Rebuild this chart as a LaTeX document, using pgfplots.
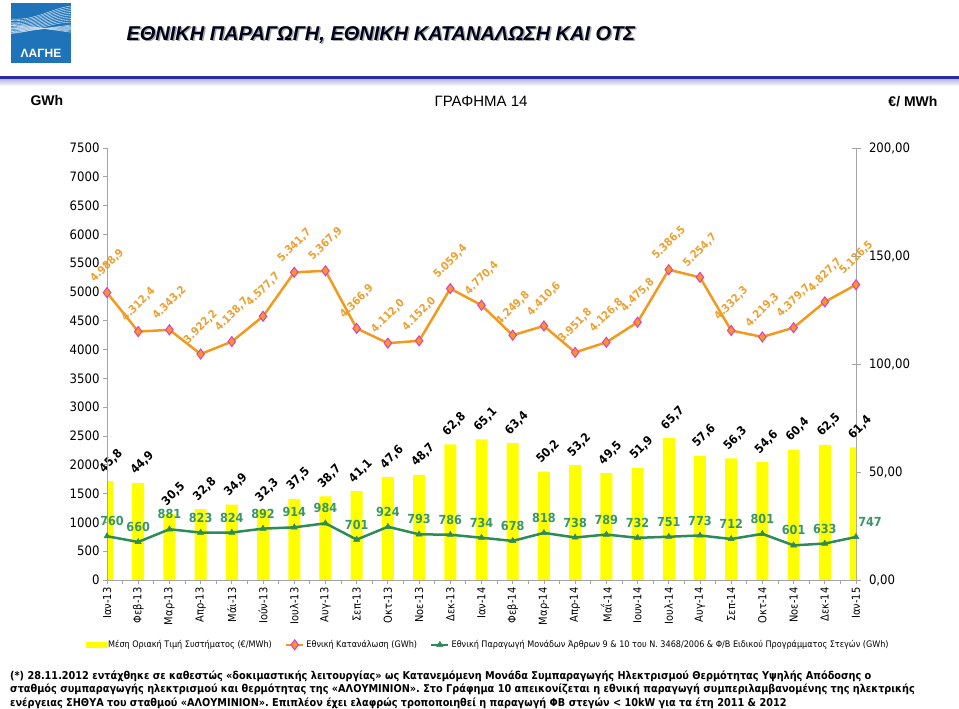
\documentclass[border=0pt]{standalone}
\usepackage{fontspec}
\usepackage{pgfplots}
\usepackage{pgfplotstable}
\pgfplotsset{compat=1.18}
\setmainfont{Liberation Sans}
\newfontfamily\cond{DejaVu Sans Condensed}

\definecolor{barY}{RGB}{255,255,0}
\definecolor{consO}{RGB}{242,154,30}
\definecolor{consLbl}{RGB}{236,160,50}
\definecolor{mkEdge}{RGB}{225,60,200}
\definecolor{prodG}{RGB}{46,139,87}
\definecolor{prodLbl}{RGB}{55,150,100}
\definecolor{logoB}{RGB}{30,115,185}
\definecolor{ruleB}{RGB}{45,45,160}
\definecolor{axGray}{RGB}{165,165,165}

\pgfplotstableread{
x smp cons prod dx
0 45.8 4988.9 760 5
1 44.9 4312.4 660 0
2 30.5 4343.2 881 0
3 32.8 3922.2 823 0
4 34.9 4138.7 824 0
5 32.3 4577.7 892 0
6 37.5 5341.7 914 0
7 38.7 5367.9 984 0
8 41.1 4366.9 701 0
9 47.6 4112.0 924 0
10 48.7 4152.0 793 0
11 62.8 5059.4 786 0
12 65.1 4770.4 734 0
13 63.4 4249.8 678 0
14 50.2 4410.6 818 0
15 53.2 3951.8 738 0
16 49.5 4126.8 789 0
17 51.9 4475.8 732 0
18 65.7 5386.5 751 0
19 57.6 5254.7 773 0
20 56.3 4332.3 712 0
21 54.6 4219.3 801 0
22 60.4 4379.7 601 0
23 62.5 4827.7 633 0
24 61.4 5126.5 747 14
}\data

\begin{document}
\begin{tikzpicture}
\useasboundingbox (0,0) rectangle (959pt,709pt);
% logo
\begin{scope}
\fill[logoB] (11pt,646pt) rectangle (71pt,706pt);
\clip (11pt,666pt) rectangle (71pt,706pt);
\foreach \i in {0,...,9} {
  \draw[white, line width=0.35pt] (11pt,{690pt-\i*1.6pt}) .. controls (35pt,{688pt-\i*1.2pt}) and (50pt,{700pt-\i*1.5pt}) .. (71pt,{703pt-\i*1.8pt});
}
\foreach \i in {0,...,6} {
  \draw[white!80!logoB, line width=0.5pt] (11pt,{676pt+\i*1.5pt}) -- (71pt,{684pt-\i*1.2pt});
}
\end{scope}
\node[text=white, font=\bfseries\fontsize{12}{14}\selectfont, anchor=center] at (41pt,656pt) {ΛΑΓΗΕ};
% title
\node[anchor=west, text=gray!70, font=\bfseries\itshape\fontsize{20}{24}\selectfont] at (124.5pt,672.5pt) {ΕΘΝΙΚΗ ΠΑΡΑΓΩΓΗ, ΕΘΝΙΚΗ ΚΑΤΑΝΑΛΩΣΗ ΚΑΙ ΟΤΣ};
\node[anchor=west, text=black!90!blue, font=\bfseries\itshape\fontsize{20}{24}\selectfont] at (123pt,674pt) {ΕΘΝΙΚΗ ΠΑΡΑΓΩΓΗ, ΕΘΝΙΚΗ ΚΑΤΑΝΑΛΩΣΗ ΚΑΙ ΟΤΣ};
% rule
\shade[top color=ruleB!35, bottom color=white] (0pt,623pt) rectangle (959pt,630pt);
\fill[ruleB] (0pt,630pt) rectangle (959pt,633pt);
% header labels
\node[anchor=west, font=\bfseries\fontsize{14}{16}\selectfont] at (27pt,608pt) {GWh};
\node[anchor=center, font=\fontsize{15}{18}\selectfont] at (481pt,608pt) {ΓΡΑΦΗΜΑ 14};
\node[anchor=east, font=\bfseries\fontsize{14}{16}\selectfont] at (941pt,607pt) {€/ MWh};

% bars, right axis
\begin{axis}[
  at={(107pt,129pt)}, anchor=south west, scale only axis,
  width=749pt, height=432pt,
  xmin=0, xmax=24, ymin=0, ymax=200,
  axis y line*=right, axis x line=none,
  axis line style={draw=axGray, line width=0.8pt, -},
  ytick={0,50,100,150,200},
  tick align=center, major tick length=9pt,
  tick style={draw=axGray, line width=0.8pt},
  yticklabel style={font=\cond\fontsize{13}{15}\selectfont, xshift=5pt,
    /pgf/number format/.cd, fixed, fixed zerofill, precision=2, use comma, assume math mode=true},
  clip mode=individual,
]
\addplot[ybar, bar width=12pt, bar shift=0pt, fill=barY, draw=none,
  nodes near coords={\pgfmathprintnumber[fixed,fixed zerofill,precision=1,use comma,assume math mode=true]{\pgfplotspointmeta}},
  nodes near coords align={center},
  every node near coord/.append style={font=\cond\bfseries\fontsize{12}{14}\selectfont, text=black, xshift=4pt, yshift=20pt, rotate=45}
] table[x=x, y=smp] {\data};
\end{axis}

% lines, left axis
\begin{axis}[
  at={(107pt,129pt)}, anchor=south west, scale only axis,
  width=749pt, height=432pt,
  xmin=0, xmax=24, ymin=0, ymax=7500,
  axis y line*=left, axis x line*=bottom,
  axis line style={draw=axGray, line width=0.8pt, -},
  xtick={0,...,24},
  xticklabels={Ιαν-13,Φεβ-13,Μαρ-13,Απρ-13,Μάι-13,Ιούν-13,Ιουλ-13,Αυγ-13,Σεπ-13,Οκτ-13,Νοε-13,Δεκ-13,Ιαν-14,Φεβ-14,Μαρ-14,Απρ-14,Μαΐ-14,Ιουν-14,Ιουλ-14,Αυγ-14,Σεπ-14,Οκτ-14,Νοε-14,Δεκ-14,Ιαν-15},
  x tick label style={rotate=90, anchor=east, font=\cond\fontsize{11}{13}\selectfont},
  minor x tick num=1,
  ytick={0,500,...,7500},
  yticklabel style={font=\cond\fontsize{13}{15}\selectfont,
    /pgf/number format/.cd, 1000 sep={}, assume math mode=true},
  tick align=outside, major tick length=4pt, minor tick length=4pt,
  tick style={draw=axGray, line width=0.8pt},
  clip mode=individual,
  legend columns=3,
  legend cell align=left,
  legend style={at={(0.509,-0.150)}, anchor=center, draw=none, fill=none,
    font=\cond\fontsize{9}{11}\selectfont,
    /tikz/every even column/.append style={column sep=11pt}},
]
\addlegendimage{legend image code/.code={\fill[barY] (0pt,-2.5pt) rectangle (20pt,2.5pt);}}
\addlegendentry{Μέση Οριακή Τιμή Συστήματος (€/MWh)}
\addplot[consO, line width=2.5pt, mark=diamond*, mark size=5pt,
  mark options={fill=consO, draw=mkEdge, line width=1pt},
  nodes near coords={\pgfmathprintnumber[fixed,fixed zerofill,precision=1,use comma,1000 sep={.},assume math mode=true]{\pgfplotspointmeta}},
  nodes near coords align={center},
  every node near coord/.append style={font=\cond\bfseries\fontsize{11}{13}\selectfont, text=consLbl, yshift=27pt, rotate=45}
] table[x=x, y=cons] {\data};
\addlegendentry{Εθνική Κατανάλωση (GWh)}
\addplot[prodG, line width=2.5pt, mark=triangle*, mark size=3.5pt,
  mark options={fill=prodG, draw=prodG, line width=0.5pt},
  visualization depends on={\thisrow{dx} \as \labdx},
  nodes near coords={\pgfmathprintnumber[fixed,precision=0,1000 sep={},assume math mode=true]{\pgfplotspointmeta}},
  nodes near coords align={center},
  every node near coord/.append style={font=\cond\bfseries\fontsize{12.5}{14}\selectfont, text=prodLbl, yshift=15pt, xshift=\labdx pt}
] table[x=x, y=prod] {\data};
\addlegendentry{Εθνική Παραγωγή Μονάδων Άρθρων 9 \& 10 του Ν. 3468/2006 \& Φ/Β Ειδικού Προγράμματος Στεγών (GWh)}
\end{axis}

% footnote
\begin{scope}[every node/.style={anchor=west, inner sep=0pt, font=\cond\bfseries\fontsize{10.8}{12}\selectfont}]
\node at (10pt,33pt) {(*) 28.11.2012 εντάχθηκε σε καθεστώς «δοκιμαστικής λειτουργίας» ως Κατανεμόμενη Μονάδα Συμπαραγωγής Ηλεκτρισμού Θερμότητας Υψηλής Απόδοσης ο};
\node at (10pt,19.5pt) {σταθμός συμπαραγωγής ηλεκτρισμού και θερμότητας της «ΑΛΟΥΜΙΝΙΟΝ». Στο Γράφημα 10 απεικονίζεται η εθνική παραγωγή συμπεριλαμβανομένης της ηλεκτρικής};
\node at (10pt,6pt) {ενέργειας ΣΗΘΥΑ του σταθμού «ΑΛΟΥΜΙΝΙΟΝ». Επιπλέον έχει ελαφρώς τροποποιηθεί η παραγωγή ΦΒ στεγών < 10kW για τα έτη 2011 \& 2012};
\end{scope}
\end{tikzpicture}
\end{document}
